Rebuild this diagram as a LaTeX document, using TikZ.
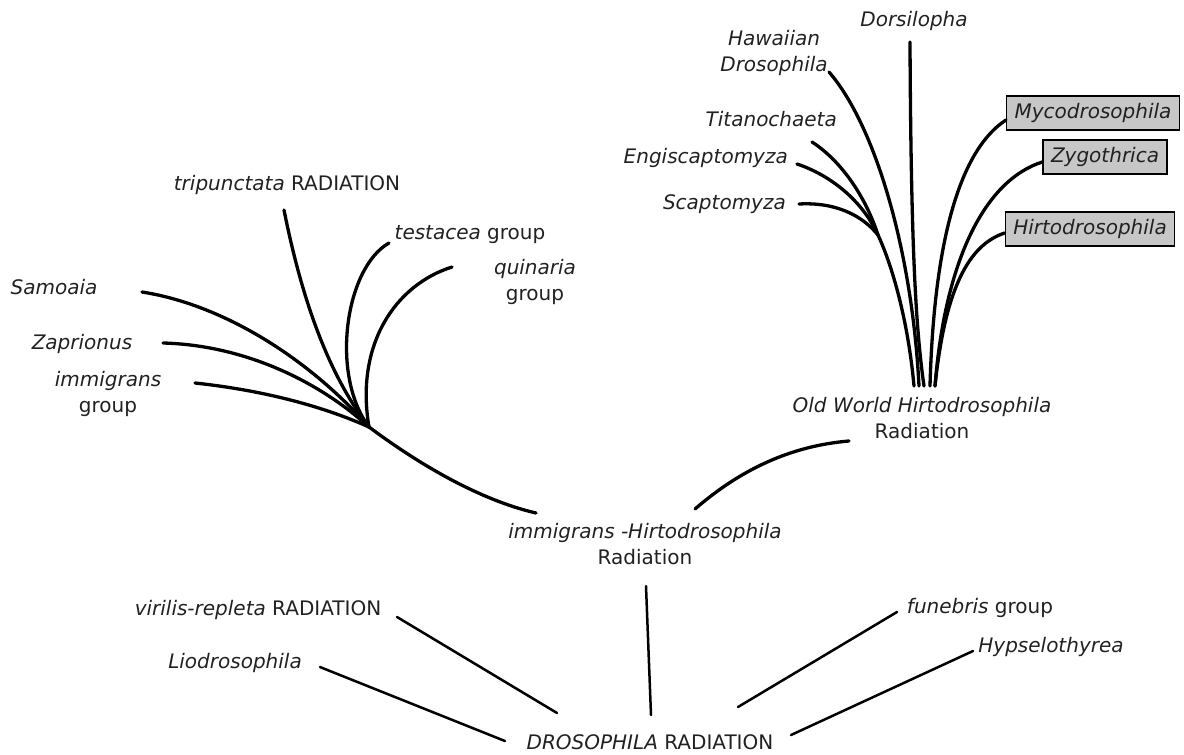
\documentclass[tikz,border=0pt]{standalone}
\usepackage{fontspec}
\setmainfont{DejaVu Sans}
\usetikzlibrary{positioning,calc}

\begin{document}
\begin{tikzpicture}[x=1pt,y=-1pt,font=\fontsize{20}{25.5}\selectfont,
  every node/.style={text=black!87,inner sep=0pt},
  lbl/.style={align=center},
  boxed/.style={draw=black,line width=1.2pt,fill=black!22,inner xsep=8pt,inner ysep=7pt,text height=15pt,text depth=5pt},
  branch/.style={line width=3.3pt,line cap=round},
  spoke/.style={line width=2.5pt,line cap=round}]
  \useasboundingbox (0,0) rectangle (1184,755);

  % Old World Hirtodrosophila radiation
  \node[lbl] (dors) at (914,21) {\textit{Dorsilopha}};
  \node[lbl] (hawaii) at (774,53) {\textit{Hawaiian}\\\textit{Drosophila}};
  \node[anchor=east] (titano) at (837,119) {\textit{Titanochaeta}};
  \node[anchor=east] (engis) at (788,158) {\textit{Engiscaptomyza}};
  \node[anchor=east] (scapto) at (786,204) {\textit{Scaptomyza}};
  \node[boxed] (myco) at (1093,113) {\textit{Mycodrosophila}};
  \node[boxed] (zygo) at (1105,157) {\textit{Zygothrica}};
  \node[boxed] (hirto) at (1090,229) {\textit{Hirtodrosophila}};
  \node[lbl] (oldworld) at (922,418) {\textit{Old World Hirtodrosophila}\\Radiation};

  \coordinate (dorsTip) at (910,42);  \coordinate (dorsFoot) at (924,386);
  \coordinate (hawTip) at (829,72);   \coordinate (hawFoot) at (919,386);
  \coordinate (titTip) at (812,142);  \coordinate (engTip) at (797,164);
  \coordinate (scaTip) at (799,204);  \coordinate (scaJoin) at (878,235);
  \coordinate (scaFoot) at (914,386);
  \coordinate (mycFoot) at (930,386); \coordinate (zygFoot) at (935,386);

  \draw[branch] (dorsTip) .. controls (911,250) and (916,330) .. (dorsFoot);
  \draw[branch] (hawTip) .. controls (875,125) and (912,250) .. (hawFoot);
  \draw[branch] (titTip) .. controls (840,160) and (865,195) .. (scaJoin);
  \draw[branch] (engTip) .. controls (830,175) and (862,200) .. (scaJoin);
  \draw[branch] (scaTip) .. controls (835,202) and (862,215) .. (scaJoin);
  \draw[branch] (scaJoin) .. controls (892,265) and (908,320) .. (scaFoot);
  \draw[branch] (mycFoot) .. controls (934,240) and (960,150) .. ([yshift=-7pt]myco.west);
  \draw[branch] (zygFoot) .. controls (945,260) and (985,180) .. ([yshift=-5pt]zygo.west);
  \draw[branch] (zygFoot) .. controls (945,290) and (968,245) .. ([yshift=-4pt]hirto.west);

  % immigrans radiation
  \node[lbl] (trip) at (287,185) {\textit{tripunctata} RADIATION};
  \node[lbl] (testa) at (470,235) {\textit{testacea} group};
  \node[lbl] (quin) at (535,282) {\textit{quinaria}\\group};
  \node[lbl] (samoa) at (54,287) {\textit{Samoaia}};
  \node[lbl] (zapr) at (82,344) {\textit{Zaprionus}};
  \node[lbl] (immgrp) at (108,394) {\textit{immigrans}\\group};
  \node[lbl] (imhirto) at (645,544) {\textit{immigrans -Hirtodrosophila}\\Radiation};

  \coordinate (hub) at (369,427);
  \coordinate (samTip) at (142,292); \coordinate (zapTip) at (163,343);
  \coordinate (immTip) at (195,383); \coordinate (triTip) at (284,210);
  \coordinate (tesTip) at (389,243); \coordinate (quiTip) at (452,267);
  \coordinate (imTrunk) at (536,513);
  \coordinate (imLink) at (695,509); \coordinate (owTip) at (849,441);

  \draw[branch] (samTip) .. controls (225,305) and (310,360) .. (hub);
  \draw[branch] (zapTip) .. controls (240,345) and (315,378) .. (hub);
  \draw[branch] (immTip) .. controls (260,390) and (320,405) .. (hub);
  \draw[branch] (triTip) .. controls (300,290) and (325,370) .. (hub);
  \draw[branch] (tesTip) .. controls (345,268) and (330,375) .. (hub);
  \draw[branch] (quiTip) .. controls (395,285) and (355,345) .. (hub);
  \draw[branch] (hub) .. controls (420,465) and (480,500) .. (imTrunk);
  \draw[branch] (imLink) .. controls (740,470) and (790,446) .. (owTip);

  % Drosophila radiation
  \node[lbl] (viri) at (258,610) {\textit{virilis-repleta} RADIATION};
  \node[lbl] (lio) at (235,663) {\textit{Liodrosophila}};
  \node[lbl] (droso) at (650,742) {\textit{DROSOPHILA} RADIATION};
  \node[lbl] (fune) at (980,608) {\textit{funebris} group};
  \node[lbl] (hypse) at (1051,647) {\textit{Hypselothyrea}};

  \coordinate (viriTip) at (397,617); \coordinate (viriFoot) at (557,713);
  \coordinate (lioTip) at (320,667);  \coordinate (lioFoot) at (505,741);
  \coordinate (stemTop) at (646,586); \coordinate (stemFoot) at (651,715);
  \coordinate (funTip) at (897,612);  \coordinate (funFoot) at (738,707);
  \coordinate (hypTip) at (973,651);  \coordinate (hypFoot) at (791,735);

  \draw[spoke] (viriTip) -- (viriFoot);
  \draw[spoke] (lioTip) -- (lioFoot);
  \draw[spoke] (stemTop) -- (stemFoot);
  \draw[spoke] (funTip) -- (funFoot);
  \draw[spoke] (hypTip) -- (hypFoot);
\end{tikzpicture}
\end{document}
